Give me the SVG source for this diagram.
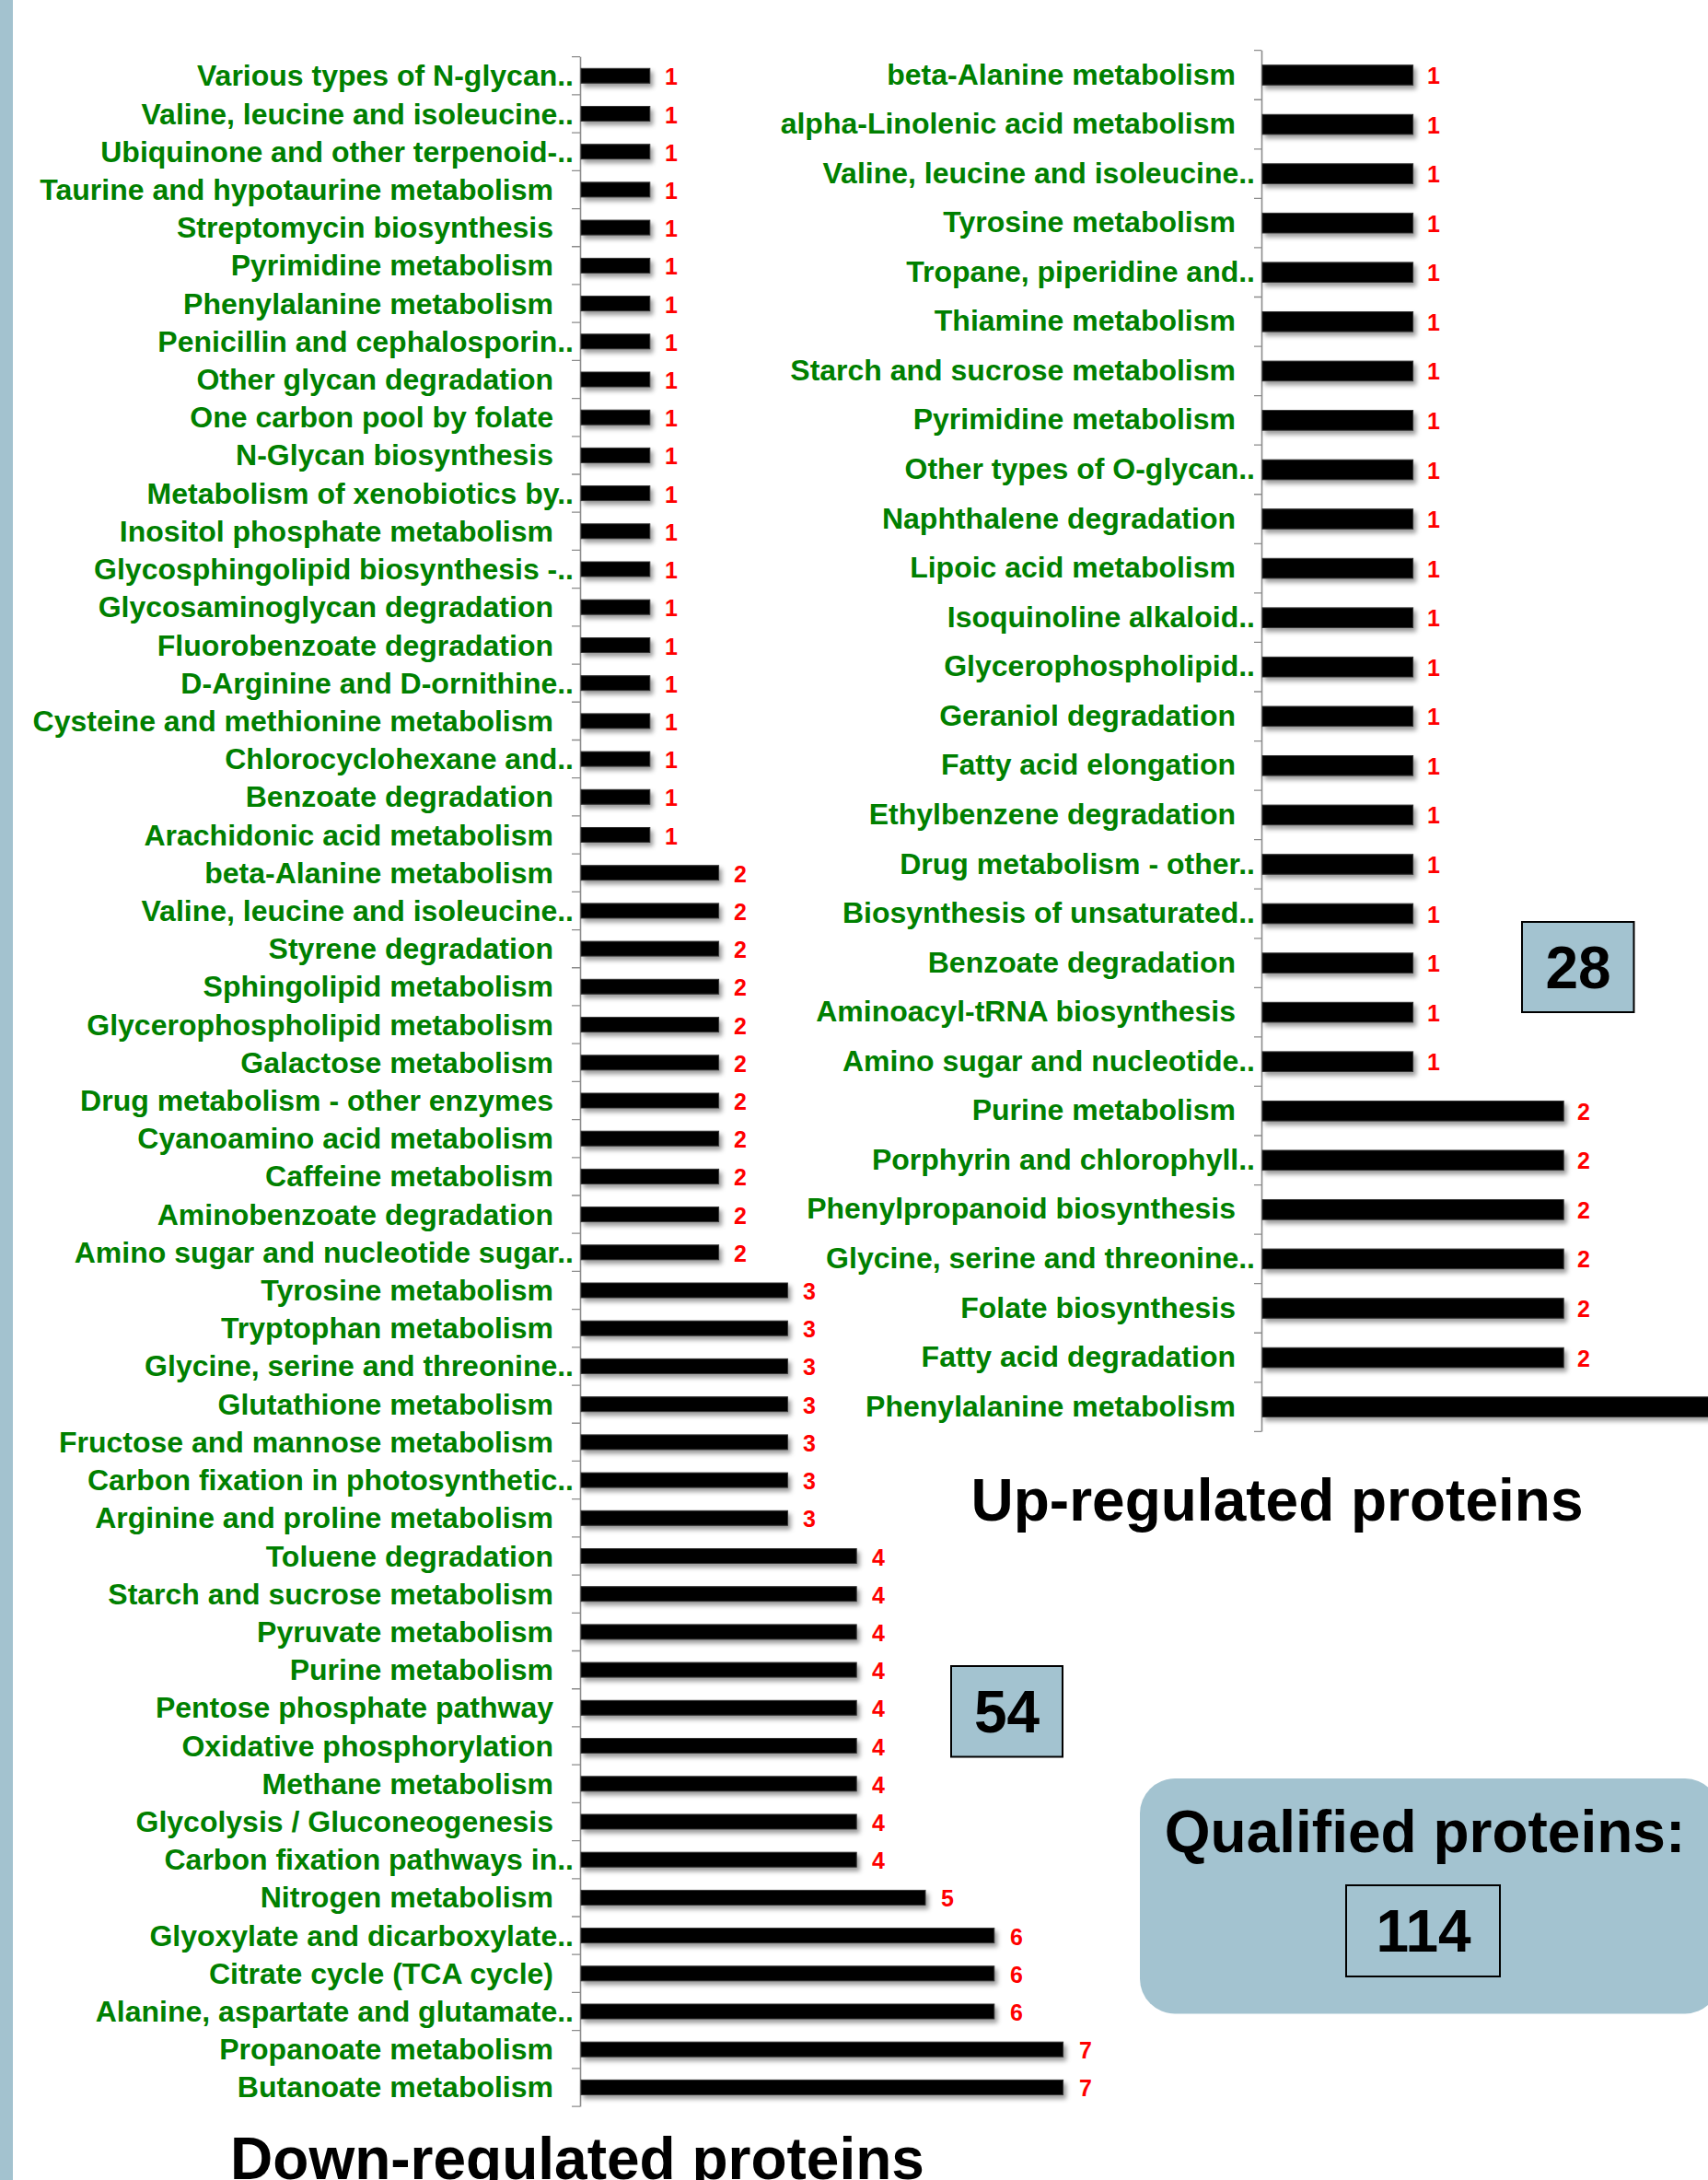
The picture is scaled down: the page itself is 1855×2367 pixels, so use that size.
<svg xmlns="http://www.w3.org/2000/svg" width="1855" height="2367" viewBox="0 0 1855 2367">
<style>
.lbl{font-family:"Liberation Sans",Arial,sans-serif;font-weight:bold;font-size:32px;fill:#008000;text-anchor:end}
.val{font-family:"Liberation Sans",Arial,sans-serif;font-weight:bold;font-size:25px;fill:#ff0000}
.bar{fill:#000;stroke:#333;stroke-width:1;filter:url(#sh)}
.axis{stroke:#8c8c8c;stroke-width:1.6;fill:none}
.title{font-family:"Liberation Sans",Arial,sans-serif;font-weight:bold;font-size:64px;fill:#000;text-anchor:middle}
.box{fill:#a3c3d0;stroke:#000;stroke-width:2}
.num{font-family:"Liberation Sans",Arial,sans-serif;font-weight:bold;font-size:64px;fill:#000;text-anchor:middle}
</style>
<defs>
<filter id="sh" x="-10%" y="-50%" width="130%" height="250%">
<feDropShadow dx="3" dy="4" stdDeviation="2.5" flood-color="#000" flood-opacity="0.4"/>
</filter>
</defs>
<rect x="0" y="0" width="1855" height="2367" fill="#fff"/>
<rect x="0" y="0" width="14" height="2367" fill="#a3c2cf"/>

<g id="axes">
<line class="axis" x1="630.5" y1="61.7" x2="630.5" y2="2287.5"/>
<line x1="625.5" y1="61.05" x2="625.5" y2="2289" stroke="#8c8c8c" stroke-width="9" stroke-dasharray="1.3 39.91"/>
<line class="axis" x1="1370.5" y1="54.7" x2="1370.5" y2="1554.4"/>
<line x1="1366" y1="54.05" x2="1366" y2="1556" stroke="#8c8c8c" stroke-width="8" stroke-dasharray="1.3 52.26"/>
</g>

<g id="down-chart">
<g id="d01" transform="translate(0,82.3)"><rect class="bar" x="631" y="-8" width="74.8" height="16"/><text class="lbl" x="623" y="11">Various types of N-glycan..</text><text class="val" x="722" y="10">1</text></g>
<g id="d02" transform="translate(0,123.5)"><rect class="bar" x="631" y="-8" width="74.8" height="16"/><text class="lbl" x="623" y="11">Valine, leucine and isoleucine..</text><text class="val" x="722" y="10">1</text></g>
<g id="d03" transform="translate(0,164.7)"><rect class="bar" x="631" y="-8" width="74.8" height="16"/><text class="lbl" x="623" y="11">Ubiquinone and other terpenoid-..</text><text class="val" x="722" y="10">1</text></g>
<g id="d04" transform="translate(0,205.9)"><rect class="bar" x="631" y="-8" width="74.8" height="16"/><text class="lbl" x="601" y="11">Taurine and hypotaurine metabolism</text><text class="val" x="722" y="10">1</text></g>
<g id="d05" transform="translate(0,247.1)"><rect class="bar" x="631" y="-8" width="74.8" height="16"/><text class="lbl" x="601" y="11">Streptomycin biosynthesis</text><text class="val" x="722" y="10">1</text></g>
<g id="d06" transform="translate(0,288.4)"><rect class="bar" x="631" y="-8" width="74.8" height="16"/><text class="lbl" x="601" y="11">Pyrimidine metabolism</text><text class="val" x="722" y="10">1</text></g>
<g id="d07" transform="translate(0,329.6)"><rect class="bar" x="631" y="-8" width="74.8" height="16"/><text class="lbl" x="601" y="11">Phenylalanine metabolism</text><text class="val" x="722" y="10">1</text></g>
<g id="d08" transform="translate(0,370.8)"><rect class="bar" x="631" y="-8" width="74.8" height="16"/><text class="lbl" x="623" y="11">Penicillin and cephalosporin..</text><text class="val" x="722" y="10">1</text></g>
<g id="d09" transform="translate(0,412.0)"><rect class="bar" x="631" y="-8" width="74.8" height="16"/><text class="lbl" x="601" y="11">Other glycan degradation</text><text class="val" x="722" y="10">1</text></g>
<g id="d10" transform="translate(0,453.2)"><rect class="bar" x="631" y="-8" width="74.8" height="16"/><text class="lbl" x="601" y="11">One carbon pool by folate</text><text class="val" x="722" y="10">1</text></g>
<g id="d11" transform="translate(0,494.4)"><rect class="bar" x="631" y="-8" width="74.8" height="16"/><text class="lbl" x="601" y="11">N-Glycan biosynthesis</text><text class="val" x="722" y="10">1</text></g>
<g id="d12" transform="translate(0,535.6)"><rect class="bar" x="631" y="-8" width="74.8" height="16"/><text class="lbl" x="623" y="11">Metabolism of xenobiotics by..</text><text class="val" x="722" y="10">1</text></g>
<g id="d13" transform="translate(0,576.8)"><rect class="bar" x="631" y="-8" width="74.8" height="16"/><text class="lbl" x="601" y="11">Inositol phosphate metabolism</text><text class="val" x="722" y="10">1</text></g>
<g id="d14" transform="translate(0,618.0)"><rect class="bar" x="631" y="-8" width="74.8" height="16"/><text class="lbl" x="623" y="11">Glycosphingolipid biosynthesis -..</text><text class="val" x="722" y="10">1</text></g>
<g id="d15" transform="translate(0,659.2)"><rect class="bar" x="631" y="-8" width="74.8" height="16"/><text class="lbl" x="601" y="11">Glycosaminoglycan degradation</text><text class="val" x="722" y="10">1</text></g>
<g id="d16" transform="translate(0,700.5)"><rect class="bar" x="631" y="-8" width="74.8" height="16"/><text class="lbl" x="601" y="11">Fluorobenzoate degradation</text><text class="val" x="722" y="10">1</text></g>
<g id="d17" transform="translate(0,741.7)"><rect class="bar" x="631" y="-8" width="74.8" height="16"/><text class="lbl" x="623" y="11">D-Arginine and D-ornithine..</text><text class="val" x="722" y="10">1</text></g>
<g id="d18" transform="translate(0,782.9)"><rect class="bar" x="631" y="-8" width="74.8" height="16"/><text class="lbl" x="601" y="11">Cysteine and methionine metabolism</text><text class="val" x="722" y="10">1</text></g>
<g id="d19" transform="translate(0,824.1)"><rect class="bar" x="631" y="-8" width="74.8" height="16"/><text class="lbl" x="623" y="11">Chlorocyclohexane and..</text><text class="val" x="722" y="10">1</text></g>
<g id="d20" transform="translate(0,865.3)"><rect class="bar" x="631" y="-8" width="74.8" height="16"/><text class="lbl" x="601" y="11">Benzoate degradation</text><text class="val" x="722" y="10">1</text></g>
<g id="d21" transform="translate(0,906.5)"><rect class="bar" x="631" y="-8" width="74.8" height="16"/><text class="lbl" x="601" y="11">Arachidonic acid metabolism</text><text class="val" x="722" y="10">1</text></g>
<g id="d22" transform="translate(0,947.7)"><rect class="bar" x="631" y="-8" width="149.6" height="16"/><text class="lbl" x="601" y="11">beta-Alanine metabolism</text><text class="val" x="797" y="10">2</text></g>
<g id="d23" transform="translate(0,988.9)"><rect class="bar" x="631" y="-8" width="149.6" height="16"/><text class="lbl" x="623" y="11">Valine, leucine and isoleucine..</text><text class="val" x="797" y="10">2</text></g>
<g id="d24" transform="translate(0,1030.1)"><rect class="bar" x="631" y="-8" width="149.6" height="16"/><text class="lbl" x="601" y="11">Styrene degradation</text><text class="val" x="797" y="10">2</text></g>
<g id="d25" transform="translate(0,1071.3)"><rect class="bar" x="631" y="-8" width="149.6" height="16"/><text class="lbl" x="601" y="11">Sphingolipid metabolism</text><text class="val" x="797" y="10">2</text></g>
<g id="d26" transform="translate(0,1112.6)"><rect class="bar" x="631" y="-8" width="149.6" height="16"/><text class="lbl" x="601" y="11">Glycerophospholipid metabolism</text><text class="val" x="797" y="10">2</text></g>
<g id="d27" transform="translate(0,1153.8)"><rect class="bar" x="631" y="-8" width="149.6" height="16"/><text class="lbl" x="601" y="11">Galactose metabolism</text><text class="val" x="797" y="10">2</text></g>
<g id="d28" transform="translate(0,1195.0)"><rect class="bar" x="631" y="-8" width="149.6" height="16"/><text class="lbl" x="601" y="11">Drug metabolism - other enzymes</text><text class="val" x="797" y="10">2</text></g>
<g id="d29" transform="translate(0,1236.2)"><rect class="bar" x="631" y="-8" width="149.6" height="16"/><text class="lbl" x="601" y="11">Cyanoamino acid metabolism</text><text class="val" x="797" y="10">2</text></g>
<g id="d30" transform="translate(0,1277.4)"><rect class="bar" x="631" y="-8" width="149.6" height="16"/><text class="lbl" x="601" y="11">Caffeine metabolism</text><text class="val" x="797" y="10">2</text></g>
<g id="d31" transform="translate(0,1318.6)"><rect class="bar" x="631" y="-8" width="149.6" height="16"/><text class="lbl" x="601" y="11">Aminobenzoate degradation</text><text class="val" x="797" y="10">2</text></g>
<g id="d32" transform="translate(0,1359.8)"><rect class="bar" x="631" y="-8" width="149.6" height="16"/><text class="lbl" x="623" y="11">Amino sugar and nucleotide sugar..</text><text class="val" x="797" y="10">2</text></g>
<g id="d33" transform="translate(0,1401.0)"><rect class="bar" x="631" y="-8" width="224.4" height="16"/><text class="lbl" x="601" y="11">Tyrosine metabolism</text><text class="val" x="872" y="10">3</text></g>
<g id="d34" transform="translate(0,1442.2)"><rect class="bar" x="631" y="-8" width="224.4" height="16"/><text class="lbl" x="601" y="11">Tryptophan metabolism</text><text class="val" x="872" y="10">3</text></g>
<g id="d35" transform="translate(0,1483.4)"><rect class="bar" x="631" y="-8" width="224.4" height="16"/><text class="lbl" x="623" y="11">Glycine, serine and threonine..</text><text class="val" x="872" y="10">3</text></g>
<g id="d36" transform="translate(0,1524.7)"><rect class="bar" x="631" y="-8" width="224.4" height="16"/><text class="lbl" x="601" y="11">Glutathione metabolism</text><text class="val" x="872" y="10">3</text></g>
<g id="d37" transform="translate(0,1565.9)"><rect class="bar" x="631" y="-8" width="224.4" height="16"/><text class="lbl" x="601" y="11">Fructose and mannose metabolism</text><text class="val" x="872" y="10">3</text></g>
<g id="d38" transform="translate(0,1607.1)"><rect class="bar" x="631" y="-8" width="224.4" height="16"/><text class="lbl" x="623" y="11">Carbon fixation in photosynthetic..</text><text class="val" x="872" y="10">3</text></g>
<g id="d39" transform="translate(0,1648.3)"><rect class="bar" x="631" y="-8" width="224.4" height="16"/><text class="lbl" x="601" y="11">Arginine and proline metabolism</text><text class="val" x="872" y="10">3</text></g>
<g id="d40" transform="translate(0,1689.5)"><rect class="bar" x="631" y="-8" width="299.2" height="16"/><text class="lbl" x="601" y="11">Toluene degradation</text><text class="val" x="947" y="10">4</text></g>
<g id="d41" transform="translate(0,1730.7)"><rect class="bar" x="631" y="-8" width="299.2" height="16"/><text class="lbl" x="601" y="11">Starch and sucrose metabolism</text><text class="val" x="947" y="10">4</text></g>
<g id="d42" transform="translate(0,1771.9)"><rect class="bar" x="631" y="-8" width="299.2" height="16"/><text class="lbl" x="601" y="11">Pyruvate metabolism</text><text class="val" x="947" y="10">4</text></g>
<g id="d43" transform="translate(0,1813.1)"><rect class="bar" x="631" y="-8" width="299.2" height="16"/><text class="lbl" x="601" y="11">Purine metabolism</text><text class="val" x="947" y="10">4</text></g>
<g id="d44" transform="translate(0,1854.3)"><rect class="bar" x="631" y="-8" width="299.2" height="16"/><text class="lbl" x="601" y="11">Pentose phosphate pathway</text><text class="val" x="947" y="10">4</text></g>
<g id="d45" transform="translate(0,1895.5)"><rect class="bar" x="631" y="-8" width="299.2" height="16"/><text class="lbl" x="601" y="11">Oxidative phosphorylation</text><text class="val" x="947" y="10">4</text></g>
<g id="d46" transform="translate(0,1936.8)"><rect class="bar" x="631" y="-8" width="299.2" height="16"/><text class="lbl" x="601" y="11">Methane metabolism</text><text class="val" x="947" y="10">4</text></g>
<g id="d47" transform="translate(0,1978.0)"><rect class="bar" x="631" y="-8" width="299.2" height="16"/><text class="lbl" x="601" y="11">Glycolysis / Gluconeogenesis</text><text class="val" x="947" y="10">4</text></g>
<g id="d48" transform="translate(0,2019.2)"><rect class="bar" x="631" y="-8" width="299.2" height="16"/><text class="lbl" x="623" y="11">Carbon fixation pathways in..</text><text class="val" x="947" y="10">4</text></g>
<g id="d49" transform="translate(0,2060.4)"><rect class="bar" x="631" y="-8" width="374" height="16"/><text class="lbl" x="601" y="11">Nitrogen metabolism</text><text class="val" x="1022" y="10">5</text></g>
<g id="d50" transform="translate(0,2101.6)"><rect class="bar" x="631" y="-8" width="448.8" height="16"/><text class="lbl" x="623" y="11">Glyoxylate and dicarboxylate..</text><text class="val" x="1097" y="10">6</text></g>
<g id="d51" transform="translate(0,2142.8)"><rect class="bar" x="631" y="-8" width="448.8" height="16"/><text class="lbl" x="601" y="11">Citrate cycle (TCA cycle)</text><text class="val" x="1097" y="10">6</text></g>
<g id="d52" transform="translate(0,2184.0)"><rect class="bar" x="631" y="-8" width="448.8" height="16"/><text class="lbl" x="623" y="11">Alanine, aspartate and glutamate..</text><text class="val" x="1097" y="10">6</text></g>
<g id="d53" transform="translate(0,2225.2)"><rect class="bar" x="631" y="-8" width="523.6" height="16"/><text class="lbl" x="601" y="11">Propanoate metabolism</text><text class="val" x="1172" y="10">7</text></g>
<g id="d54" transform="translate(0,2266.4)"><rect class="bar" x="631" y="-8" width="523.6" height="16"/><text class="lbl" x="601" y="11">Butanoate metabolism</text><text class="val" x="1172" y="10">7</text></g>
</g>

<g id="up-chart">
<g id="u01" transform="translate(0,81.5)"><rect class="bar" x="1371" y="-10.8" width="163.6" height="21.6"/><text class="lbl" x="1342" y="10">beta-Alanine metabolism</text><text class="val" x="1550" y="9.5">1</text></g>
<g id="u02" transform="translate(0,135.1)"><rect class="bar" x="1371" y="-10.8" width="163.6" height="21.6"/><text class="lbl" x="1342" y="10">alpha-Linolenic acid metabolism</text><text class="val" x="1550" y="9.5">1</text></g>
<g id="u03" transform="translate(0,188.6)"><rect class="bar" x="1371" y="-10.8" width="163.6" height="21.6"/><text class="lbl" x="1363" y="10">Valine, leucine and isoleucine..</text><text class="val" x="1550" y="9.5">1</text></g>
<g id="u04" transform="translate(0,242.2)"><rect class="bar" x="1371" y="-10.8" width="163.6" height="21.6"/><text class="lbl" x="1342" y="10">Tyrosine metabolism</text><text class="val" x="1550" y="9.5">1</text></g>
<g id="u05" transform="translate(0,295.7)"><rect class="bar" x="1371" y="-10.8" width="163.6" height="21.6"/><text class="lbl" x="1363" y="10">Tropane, piperidine and..</text><text class="val" x="1550" y="9.5">1</text></g>
<g id="u06" transform="translate(0,349.3)"><rect class="bar" x="1371" y="-10.8" width="163.6" height="21.6"/><text class="lbl" x="1342" y="10">Thiamine metabolism</text><text class="val" x="1550" y="9.5">1</text></g>
<g id="u07" transform="translate(0,402.9)"><rect class="bar" x="1371" y="-10.8" width="163.6" height="21.6"/><text class="lbl" x="1342" y="10">Starch and sucrose metabolism</text><text class="val" x="1550" y="9.5">1</text></g>
<g id="u08" transform="translate(0,456.4)"><rect class="bar" x="1371" y="-10.8" width="163.6" height="21.6"/><text class="lbl" x="1342" y="10">Pyrimidine metabolism</text><text class="val" x="1550" y="9.5">1</text></g>
<g id="u09" transform="translate(0,510.0)"><rect class="bar" x="1371" y="-10.8" width="163.6" height="21.6"/><text class="lbl" x="1363" y="10">Other types of O-glycan..</text><text class="val" x="1550" y="9.5">1</text></g>
<g id="u10" transform="translate(0,563.5)"><rect class="bar" x="1371" y="-10.8" width="163.6" height="21.6"/><text class="lbl" x="1342" y="10">Naphthalene degradation</text><text class="val" x="1550" y="9.5">1</text></g>
<g id="u11" transform="translate(0,617.1)"><rect class="bar" x="1371" y="-10.8" width="163.6" height="21.6"/><text class="lbl" x="1342" y="10">Lipoic acid metabolism</text><text class="val" x="1550" y="9.5">1</text></g>
<g id="u12" transform="translate(0,670.7)"><rect class="bar" x="1371" y="-10.8" width="163.6" height="21.6"/><text class="lbl" x="1363" y="10">Isoquinoline alkaloid..</text><text class="val" x="1550" y="9.5">1</text></g>
<g id="u13" transform="translate(0,724.2)"><rect class="bar" x="1371" y="-10.8" width="163.6" height="21.6"/><text class="lbl" x="1363" y="10">Glycerophospholipid..</text><text class="val" x="1550" y="9.5">1</text></g>
<g id="u14" transform="translate(0,777.8)"><rect class="bar" x="1371" y="-10.8" width="163.6" height="21.6"/><text class="lbl" x="1342" y="10">Geraniol degradation</text><text class="val" x="1550" y="9.5">1</text></g>
<g id="u15" transform="translate(0,831.3)"><rect class="bar" x="1371" y="-10.8" width="163.6" height="21.6"/><text class="lbl" x="1342" y="10">Fatty acid elongation</text><text class="val" x="1550" y="9.5">1</text></g>
<g id="u16" transform="translate(0,884.9)"><rect class="bar" x="1371" y="-10.8" width="163.6" height="21.6"/><text class="lbl" x="1342" y="10">Ethylbenzene degradation</text><text class="val" x="1550" y="9.5">1</text></g>
<g id="u17" transform="translate(0,938.5)"><rect class="bar" x="1371" y="-10.8" width="163.6" height="21.6"/><text class="lbl" x="1363" y="10">Drug metabolism - other..</text><text class="val" x="1550" y="9.5">1</text></g>
<g id="u18" transform="translate(0,992.0)"><rect class="bar" x="1371" y="-10.8" width="163.6" height="21.6"/><text class="lbl" x="1363" y="10">Biosynthesis of unsaturated..</text><text class="val" x="1550" y="9.5">1</text></g>
<g id="u19" transform="translate(0,1045.6)"><rect class="bar" x="1371" y="-10.8" width="163.6" height="21.6"/><text class="lbl" x="1342" y="10">Benzoate degradation</text><text class="val" x="1550" y="9.5">1</text></g>
<g id="u20" transform="translate(0,1099.1)"><rect class="bar" x="1371" y="-10.8" width="163.6" height="21.6"/><text class="lbl" x="1342" y="10">Aminoacyl-tRNA biosynthesis</text><text class="val" x="1550" y="9.5">1</text></g>
<g id="u21" transform="translate(0,1152.7)"><rect class="bar" x="1371" y="-10.8" width="163.6" height="21.6"/><text class="lbl" x="1363" y="10">Amino sugar and nucleotide..</text><text class="val" x="1550" y="9.5">1</text></g>
<g id="u22" transform="translate(0,1206.3)"><rect class="bar" x="1371" y="-10.8" width="327.2" height="21.6"/><text class="lbl" x="1342" y="10">Purine metabolism</text><text class="val" x="1713" y="9.5">2</text></g>
<g id="u23" transform="translate(0,1259.8)"><rect class="bar" x="1371" y="-10.8" width="327.2" height="21.6"/><text class="lbl" x="1363" y="10">Porphyrin and chlorophyll..</text><text class="val" x="1713" y="9.5">2</text></g>
<g id="u24" transform="translate(0,1313.4)"><rect class="bar" x="1371" y="-10.8" width="327.2" height="21.6"/><text class="lbl" x="1342" y="10">Phenylpropanoid biosynthesis</text><text class="val" x="1713" y="9.5">2</text></g>
<g id="u25" transform="translate(0,1366.9)"><rect class="bar" x="1371" y="-10.8" width="327.2" height="21.6"/><text class="lbl" x="1363" y="10">Glycine, serine and threonine..</text><text class="val" x="1713" y="9.5">2</text></g>
<g id="u26" transform="translate(0,1420.5)"><rect class="bar" x="1371" y="-10.8" width="327.2" height="21.6"/><text class="lbl" x="1342" y="10">Folate biosynthesis</text><text class="val" x="1713" y="9.5">2</text></g>
<g id="u27" transform="translate(0,1474.1)"><rect class="bar" x="1371" y="-10.8" width="327.2" height="21.6"/><text class="lbl" x="1342" y="10">Fatty acid degradation</text><text class="val" x="1713" y="9.5">2</text></g>
<g id="u28" transform="translate(0,1527.6)"><rect class="bar" x="1371" y="-10.8" width="560" height="21.6"/><text class="lbl" x="1342" y="10">Phenylalanine metabolism</text></g>
</g>

<g id="title-up"><text class="title" x="1387" y="1651">Up-regulated proteins</text></g>
<g id="title-down"><text class="title" x="627" y="2366">Down-regulated proteins</text></g>

<g id="box-28"><rect class="box" x="1653" y="1001" width="121.5" height="98"/><text class="num" x="1714" y="1073">28</text></g>
<g id="box-54"><rect class="box" x="1033" y="1809" width="121" height="98.5"/><text class="num" x="1093.5" y="1881">54</text></g>
<g id="qualified">
<rect x="1238" y="1931" width="630" height="255.5" rx="38" ry="38" fill="#a3c3d0"/>
<text class="title" x="1547.5" y="2011" font-size="61">Qualified proteins:</text>
<rect x="1462" y="2047" width="167" height="99" fill="none" stroke="#000" stroke-width="2"/>
<text class="title" x="1546" y="2119" font-size="62">114</text>
</g>
</svg>
